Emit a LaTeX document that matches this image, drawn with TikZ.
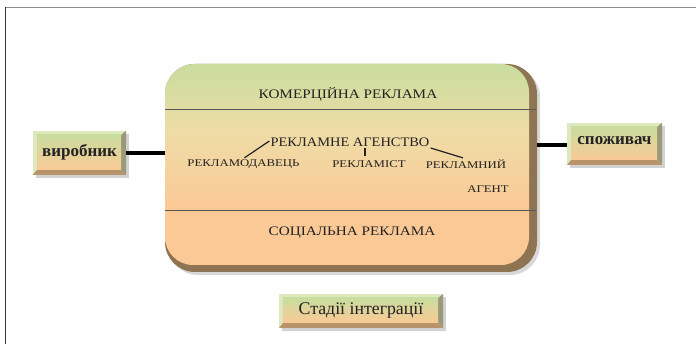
\documentclass[tikz,border=0pt]{standalone}
\usepackage{fontspec}
\setmainfont{Liberation Serif}
\usepackage{graphicx}
\usetikzlibrary{shadows,calc}
\definecolor{grn}{HTML}{C9DD9E}
\definecolor{mid}{HTML}{EFDCA6}
\definecolor{pch}{HTML}{FBC996}
\definecolor{bev}{HTML}{8E7452}
\definecolor{sbR}{HTML}{9A9A7A}
\definecolor{sbB}{HTML}{B8946A}
\definecolor{sbL}{HTML}{DDE8BE}
\definecolor{txt}{HTML}{222222}
\pgfdeclareverticalshading{mainsh}{100bp}{color(0bp)=(pch); color(25bp)=(pch); color(39bp)=(pch); color(58bp)=(mid); color(75bp)=(grn); color(100bp)=(grn)}
\pgfdeclareverticalshading{boxsh}{100bp}{color(0bp)=(pch); color(25bp)=(pch); color(75bp)=(grn); color(100bp)=(grn)}
\newcommand\wtxt[1]{\scalebox{1.17}[1]{#1}}
\newcommand\atxt[1]{\scalebox{1.11}[1]{#1}}
\newcommand\stxt[1]{\scalebox{1.24}[1]{#1}}
\tikzset{
  bigtxt/.style={inner sep=1pt, text=txt, font=\fontsize{13}{13}\selectfont},
  smalltxt/.style={inner sep=1pt, text=txt, font=\fontsize{10.3}{10.3}\selectfont},
  bevelbox/.style={inner sep=0pt, text=txt,
    drop shadow={opacity=0.35, shadow xshift=3pt, shadow yshift=-3pt},
    fill=sbL,
    path picture={
      \path (path picture bounding box.south west) coordinate (pSW)
            (path picture bounding box.north east) coordinate (pNE)
            (path picture bounding box.south east) coordinate (pSE)
            (path picture bounding box.north west) coordinate (pNW);
      \fill[sbR] (pNE) -- (pSE) -- ([xshift=-5pt,yshift=5pt]pSE) -- ([xshift=-5pt,yshift=-4pt]pNE) -- cycle;
      \fill[sbB] (pSW) -- (pSE) -- ([xshift=-5pt,yshift=5pt]pSE) -- ([xshift=4pt,yshift=5pt]pSW) -- cycle;
      \shade[shading=boxsh] ([xshift=4pt,yshift=5pt]pSW) rectangle ([xshift=-5pt,yshift=-4pt]pNE);
    }},
  mainbox/.style={inner sep=0pt, rounded corners=30pt, fill=bev,
    drop shadow={opacity=0.3, shadow xshift=3pt, shadow yshift=-3pt},
    path picture={
      \path (path picture bounding box.north west) coordinate (mNW)
            (path picture bounding box.south east) coordinate (mSE);
      \shade[shading=mainsh, rounded corners=28pt] (mNW) rectangle ([xshift=-8pt,yshift=7pt]mSE);
    }},
  treeline/.style={line width=1.2pt, draw=txt},
  conn/.style={line width=3.5pt, draw=black},
  divider/.style={line width=0.8pt, draw=black!65}
}
\begin{document}
\begin{tikzpicture}[x=1pt,y=-1pt]
\useasboundingbox (0,0) rectangle (696,344);
\fill[white] (0,0) rectangle (696,344);
% frame
\draw[black!45, line width=1pt] (5,7.5) -- (696,7.5);
\draw[black!80, line width=1pt] (5.5,7.5) -- (5.5,344);

% main box
\node[mainbox, minimum width=372pt, minimum height=208pt] (main) at (351,168) {};
\draw[divider] (165,109) -- (536,109);
\draw[divider] (165,210) -- (536,210);

\node[bigtxt] (com) at (348,94) {\wtxt{КОМЕРЦІЙНА РЕКЛАМА}};
\node[bigtxt] (agency) at (350,142) {\atxt{РЕКЛАМНЕ АГЕНСТВО}};
\node[smalltxt] (r1) at (243.5,164) {\stxt{РЕКЛАМОДАВЕЦЬ}};
\node[smalltxt] (r2) at (369,164) {\stxt{РЕКЛАМІСТ}};
\node[smalltxt] (r3) at (466,164) {\stxt{РЕКЛАМНИЙ}};
\node[smalltxt] (r4) at (488,189) {\stxt{АГЕНТ}};
\node[bigtxt] (soc) at (352,233) {\wtxt{СОЦІАЛЬНА РЕКЛАМА}};

\draw[treeline] ([yshift=1pt]agency.west) -- ([xshift=1pt,yshift=0.5pt]r1.north);
\draw[treeline] ([xshift=-4pt,yshift=3.5pt]r2.north) -- ([xshift=-4pt]r2.north |- agency.south);
\draw[treeline] ([yshift=-6pt]agency.east) -- ([xshift=-3pt,yshift=0.5pt]r3.north);

% side boxes
\node[bevelbox, minimum width=93pt, minimum height=44pt, font=\bfseries\fontsize{17}{17}\selectfont] (vyr) at (79.5,153) {\raisebox{5pt}{виробник}};
\node[bevelbox, minimum width=95pt, minimum height=42pt, font=\bfseries\fontsize{17}{17}\selectfont] (spo) at (614.5,144) {\raisebox{7pt}{споживач}};
\node[bevelbox, minimum width=164pt, minimum height=34pt, font=\fontsize{17.8}{17.8}\selectfont] (stage) at (361,311) {\raisebox{3pt}{Стадії інтеграції}};

\draw[conn] (vyr.east) -- (vyr.east -| main.west);
\draw[conn] ([yshift=-1pt]spo.west) -- ([yshift=-1pt]spo.west -| main.east);
\end{tikzpicture}
\end{document}
